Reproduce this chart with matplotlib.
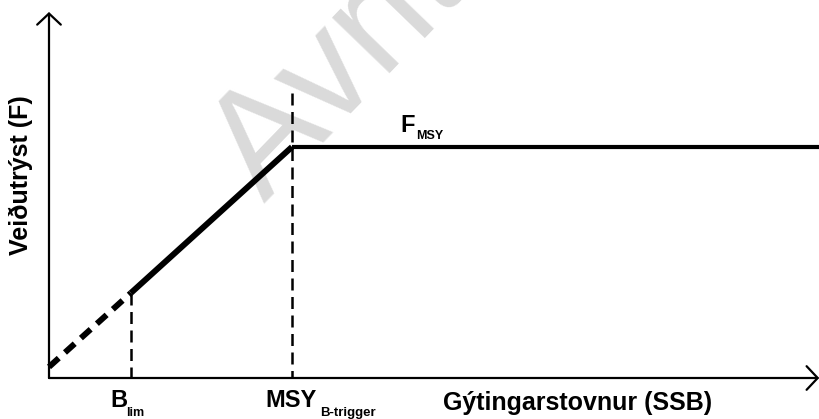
import matplotlib
matplotlib.use("Agg")
import matplotlib.pyplot as plt

# ---- data (SSB scaled so MSY B-trigger = 1, F scaled so F_MSY = 1) ----
B_LIM = 0.337
MSY_BTRIGGER = 1.0
F_MSY = 1.0
SSB_MAX = 3.173
F_AXIS_MAX = 1.584

extrap_ssb = [0.0, B_LIM]          # dashed extrapolation below B_lim
extrap_f = [0.048, 0.368]
ramp_ssb = [B_LIM, MSY_BTRIGGER]   # linear ramp
ramp_f = [0.368, F_MSY]
plateau_ssb = [MSY_BTRIGGER, SSB_MAX]
plateau_f = [F_MSY, F_MSY]
ref_ssb = [B_LIM, MSY_BTRIGGER]    # reference points (vertical dashed lines)
ref_top = [0.368, 1.234]

W, H = 820, 419
fig = plt.figure(figsize=(W / 100, H / 100), dpi=100)
ax = fig.add_axes([49 / W, 41 / H, 771 / W, 366 / H])
ax.set_xlim(0, SSB_MAX)
ax.set_ylim(0, F_AXIS_MAX)
ax.axis("off")

BOLD = dict(family="Liberation Sans", weight="bold", color="black")


def px(x, y):
    return x / W, 1 - y / H


# watermark
ax.text(*px(264, 203), "Avrit", transform=fig.transFigure, rotation=46,
        rotation_mode="anchor", ha="left", va="baseline", fontsize=108,
        family="Liberation Sans", color="#dadada", zorder=0, clip_on=False)

# axes arrows
arrow = dict(arrowstyle="->,head_length=0.8,head_width=0.85", lw=1.6,
             color="black", mutation_scale=10, shrinkA=0, shrinkB=0)
ax.annotate("", xy=(0, F_AXIS_MAX), xytext=(0, 0), arrowprops=arrow,
            annotation_clip=False)
ax.annotate("", xy=(SSB_MAX * 0.999, 0), xytext=(0, 0), arrowprops=arrow,
            annotation_clip=False)

# reference vertical dashed lines
for xs, top in zip(ref_ssb, ref_top):
    ax.plot([xs, xs], [top, 0], color="black", lw=1.8,
            linestyle=(0, (4.8, 2.6)), dash_capstyle="butt", clip_on=False,
            zorder=2)

# harvest control rule
ax.plot(extrap_ssb, extrap_f, color="black", lw=4.3,
        linestyle=(0, (2.2, 1.4)), dash_capstyle="butt", clip_on=False,
        zorder=3)
ax.plot(ramp_ssb, ramp_f, color="black", lw=4.3, solid_capstyle="butt",
        clip_on=False, zorder=3)
ax.plot(plateau_ssb, plateau_f, color="black", lw=3.0, solid_capstyle="butt",
        clip_on=False, zorder=3)

# labels
fig.text(*px(110, 407), "B", fontsize=17, va="baseline", **BOLD)
fig.text(*px(126, 416), "lim", fontsize=9, va="baseline", **BOLD)
fig.text(*px(265, 407), "MSY", fontsize=17, va="baseline", **BOLD)
fig.text(*px(320, 416), "B-trigger", fontsize=9.5, va="baseline", **BOLD)
fig.text(*px(443, 410), "Gýtingarstovnur (SSB)", fontsize=18,
         va="baseline", **BOLD)
fig.text(*px(400, 132), "F", fontsize=17, va="baseline", **BOLD)
fig.text(*px(416, 139), "MSY", fontsize=9, va="baseline", **BOLD)
fig.text(*px(21, 175), "Veiðutrýst (F)", fontsize=18, rotation=90,
         ha="center", va="center", **BOLD)

fig.savefig("out.png", dpi=100, facecolor="white")
